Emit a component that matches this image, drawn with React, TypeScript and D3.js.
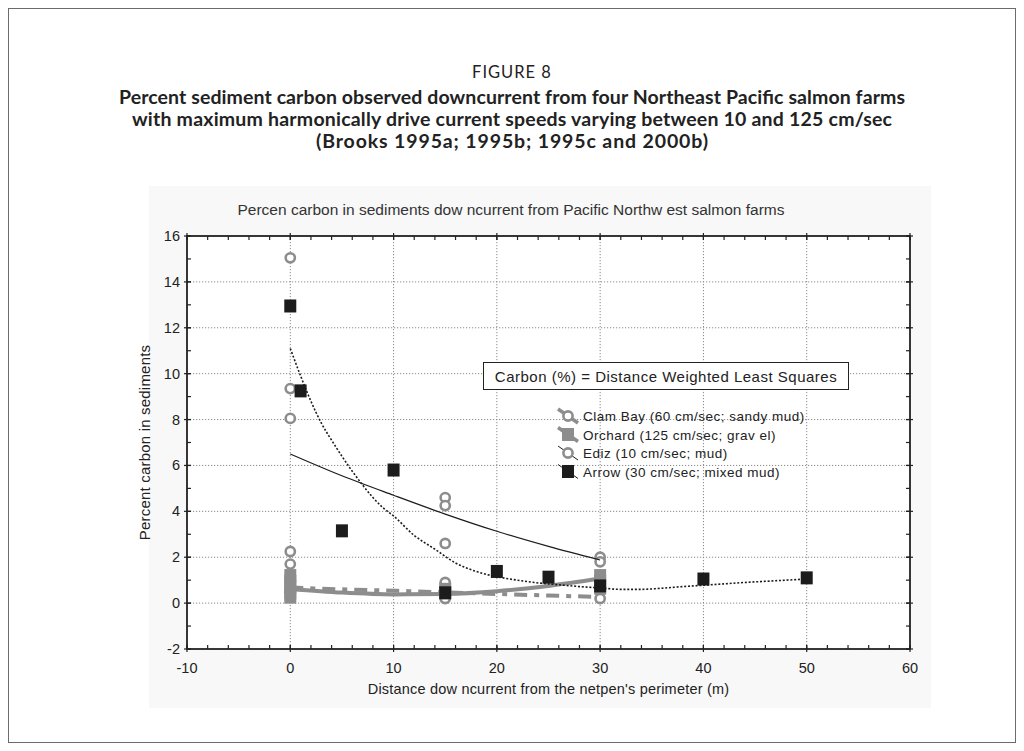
import React from "react";
import * as d3 from "d3";

// ---- data ----
const arrowX = [0, 1, 5, 10, 15, 20, 25, 30, 40, 50];
const arrowY = [12.95, 9.25, 3.15, 5.8, 0.45, 1.38, 1.13, 0.75, 1.05, 1.1];

const edizX = [0, 0, 0, 0, 15, 15, 15, 30, 30];
const edizY = [15.05, 9.35, 8.05, 2.25, 4.6, 4.25, 2.6, 2.0, 1.8];

const clamX = [0, 0, 15, 15, 30];
const clamY = [1.7, 0.6, 0.9, 0.2, 0.2];

const orchardX = [0, 0, 0, 0, 0, 15, 15, 30, 30, 30];
const orchardY = [1.2, 0.95, 0.7, 0.45, 0.26, 0.6, 0.45, 1.2, 0.95, 0.65];

// distance weighted least squares fits
const arrowFitX = [0, 1, 2, 3, 4, 5, 6, 7, 8, 9, 10, 12, 14, 16, 18, 20, 22, 24, 26, 28, 30, 32, 34, 36, 38, 40, 42, 44, 46, 48, 50];
const arrowFitY = [11.1, 9.9, 8.8, 7.85, 7.1, 6.4, 5.75, 5.15, 4.6, 4.15, 3.8, 2.95, 2.35, 1.75, 1.38, 1.15, 1.0, 0.88, 0.8, 0.72, 0.66, 0.6, 0.6, 0.65, 0.72, 0.78, 0.84, 0.9, 0.95, 1.0, 1.05];

const edizFitX = [0, 5, 10, 15, 20, 25, 30];
const edizFitY = [6.5, 5.55, 4.7, 3.88, 3.13, 2.47, 1.88];

const orchardFitX = [0, 5, 10, 15, 20, 25, 30];
const orchardFitY = [0.62, 0.46, 0.38, 0.4, 0.52, 0.75, 1.07];

const clamFitX = [0, 5, 10, 15, 20, 25, 30];
const clamFitY = [0.68, 0.6, 0.54, 0.47, 0.4, 0.33, 0.27];

const xTicks = [-10, 0, 10, 20, 30, 40, 50, 60];
const yTicks = [-2, 0, 2, 4, 6, 8, 10, 12, 14, 16];

const titleLines = [
  "Percent sediment carbon observed downcurrent from four Northeast Pacific salmon farms",
  "with maximum harmonically drive current speeds varying between 10 and 125 cm/sec",
  "(Brooks 1995a; 1995b; 1995c and 2000b)",
];
const titleWidths = [786, 760, 392];

const legendItems = [
  { label: "Clam Bay  (60 cm/sec; sandy  mud)", kind: "circle", line: "thick" },
  { label: "Orchard (125 cm/sec; grav el)", kind: "graySquare", line: "thick" },
  { label: "Ediz (10 cm/sec; mud)", kind: "circle", line: "thin" },
  { label: "Arrow (30 cm/sec; mixed mud)", kind: "blackSquare", line: "thin" },
];

const GRAY = "#8d8d8d";
const DARK = "#1c1c1c";
const FONT = "'Liberation Sans', Arial, sans-serif";

function Circle({ cx, cy }: { cx: number; cy: number }) {
  return <circle cx={cx} cy={cy} r={4.6} fill="#fff" stroke={GRAY} strokeWidth={2.6} />;
}

function Square({ cx, cy, fill }: { cx: number; cy: number; fill: string }) {
  return <rect x={cx - 6} y={cy - 6.5} width={12} height={13} fill={fill} />;
}

export default function App() {
  const left = 187, right = 910, top = 236, bottom = 649;
  const x = d3.scaleLinear().domain([-10, 60]).range([left, right]);
  const y = d3.scaleLinear().domain([-2, 16]).range([bottom, top]);

  const fit = (xs: number[], ys: number[]) =>
    d3.line<number>().x((d) => x(xs[d])).y((d) => y(ys[d])).curve(d3.curveMonotoneX)(d3.range(xs.length)) || "";

  const xMinor = d3.range(-10, 60.01, 2);
  const yMinor = d3.range(-2, 16.01, 1);

  return (
    <svg width={1024} height={751} style={{ position: "absolute", left: 0, top: 0, background: "#fff" }} fontFamily={FONT}>
      <rect x={8.5} y={8.5} width={1007} height={734} fill="#fff" stroke="#6b6b6b" strokeWidth={1} />

      {/* figure heading */}
      <text x={512} y={78} textAnchor="middle" fontSize={16.5} fontFamily="Lato, sans-serif" letterSpacing={1} fill="#222">FIGURE 8</text>
      <g fontFamily="Lato, sans-serif" fontWeight="bold" fontSize={19.5} fill="#222" textAnchor="middle">
        {titleLines.map((t, i) => (
          <text key={i} x={512} y={104 + i * 22} textLength={titleWidths[i]} lengthAdjust="spacing">{t}</text>
        ))}
      </g>

      {/* chart panel */}
      <rect x={149} y={186} width={782} height={522} fill="#f8f8f8" />
      <text x={511} y={215} textAnchor="middle" fontSize={15.5} fill="#333">
        Percen carbon in sediments dow ncurrent from Pacific  Northw est salmon farms
      </text>
      <rect x={left} y={top} width={right - left} height={bottom - top} fill="#fff" />

      {/* grid */}
      <g stroke="#8a8a8a" strokeWidth={1} strokeDasharray="1.2 1.8">
        {xTicks.slice(1, -1).map((t) => (
          <line key={"gx" + t} x1={x(t)} x2={x(t)} y1={top} y2={bottom} />
        ))}
        {yTicks.slice(1, -1).map((t) => (
          <line key={"gy" + t} x1={left} x2={right} y1={y(t)} y2={y(t)} />
        ))}
      </g>

      {/* fitted curves */}
      <path d={fit(orchardFitX, orchardFitY)} fill="none" stroke={GRAY} strokeWidth={4} strokeLinecap="round" />
      <path d={fit(clamFitX, clamFitY)} fill="none" stroke={GRAY} strokeWidth={4} strokeDasharray="13 7 5 7" />

      {/* markers */}
      {clamX.map((v, i) => <Circle key={"c" + i} cx={x(v)} cy={y(clamY[i])} />)}
      {orchardX.map((v, i) => <Square key={"o" + i} cx={x(v)} cy={y(orchardY[i])} fill={GRAY} />)}
      {edizX.map((v, i) => <Circle key={"e" + i} cx={x(v)} cy={y(edizY[i])} />)}
      {arrowX.map((v, i) => <Square key={"a" + i} cx={x(v)} cy={y(arrowY[i])} fill={DARK} />)}

      <path d={fit(edizFitX, edizFitY)} fill="none" stroke={DARK} strokeWidth={1.2} />
      <path d={fit(arrowFitX, arrowFitY)} fill="none" stroke={DARK} strokeWidth={1.6} strokeDasharray="2 1.8" />

      {/* axes frame */}
      <rect x={left} y={top} width={right - left} height={bottom - top} fill="none" stroke="#222" strokeWidth={1.8} />
      <g stroke="#222" strokeWidth={1.2}>
        {xMinor.map((t) => (
          <g key={"tx" + t}>
            <line x1={x(t)} x2={x(t)} y1={bottom} y2={bottom - 4} />
            <line x1={x(t)} x2={x(t)} y1={top} y2={top + 4} />
          </g>
        ))}
        {xTicks.map((t) => (
          <g key={"TX" + t}>
            <line x1={x(t)} x2={x(t)} y1={bottom + 3} y2={bottom - 4} />
            <line x1={x(t)} x2={x(t)} y1={top - 3} y2={top + 4} />
          </g>
        ))}
        {yMinor.map((t) => (
          <g key={"ty" + t}>
            <line x1={left} x2={left + 4} y1={y(t)} y2={y(t)} />
            <line x1={right} x2={right - 4} y1={y(t)} y2={y(t)} />
          </g>
        ))}
        {yTicks.map((t) => (
          <g key={"TY" + t}>
            <line x1={left - 3} x2={left + 4} y1={y(t)} y2={y(t)} />
            <line x1={right + 3} x2={right - 4} y1={y(t)} y2={y(t)} />
          </g>
        ))}
      </g>

      {/* tick labels */}
      <g fontSize={14.5} fill="#222">
        {xTicks.map((t) => (
          <text key={"lx" + t} x={x(t)} y={673} textAnchor="middle">{t}</text>
        ))}
        {yTicks.map((t) => (
          <text key={"ly" + t} x={180} y={y(t) + 5} textAnchor="end">{t}</text>
        ))}
      </g>
      <text x={(left + right) / 2} y={694} textAnchor="middle" fontSize={14.5} letterSpacing={0.2} fill="#222">
        Distance dow ncurrent from the netpen's perimeter (m)
      </text>
      <text transform={`translate(150, ${(top + bottom) / 2}) rotate(-90)`} textAnchor="middle" fontSize={15} letterSpacing={0.2} fill="#222">
        Percent carbon in sediments
      </text>

      {/* equation box */}
      <rect x={483.5} y={362.5} width={365} height={27} fill="#fff" stroke="#222" strokeWidth={1} />
      <text x={666} y={381.5} textAnchor="middle" fontSize={15} letterSpacing={0.5} fill="#222">
        Carbon (%) = Distance Weighted Least Squares
      </text>

      {/* legend */}
      {legendItems.map((it, i) => {
        const cy = 416 + i * 18.5;
        const cx = 568;
        return (
          <g key={"lg" + i}>
            <line x1={cx - 10} y1={cy - 7} x2={cx + 10} y2={cy + 7}
              stroke={it.line === "thick" ? GRAY : DARK} strokeWidth={it.line === "thick" ? 3.5 : 1} />
            {it.kind === "circle" && <Circle cx={cx} cy={cy} />}
            {it.kind === "graySquare" && <Square cx={cx} cy={cy} fill={GRAY} />}
            {it.kind === "blackSquare" && <Square cx={cx} cy={cy} fill={DARK} />}
            <text x={583} y={cy + 5} fontSize={13.5} letterSpacing={0.5} fill="#222">{it.label}</text>
          </g>
        );
      })}
    </svg>
  );
}
